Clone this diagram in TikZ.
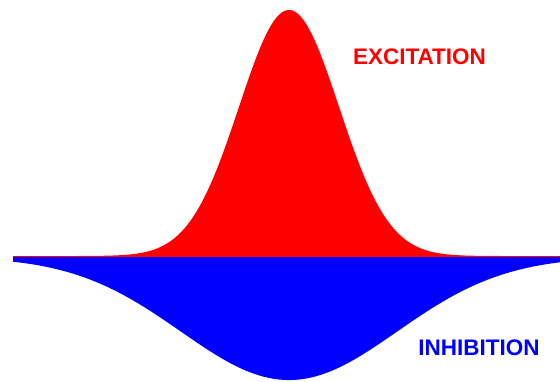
\documentclass[tikz,border=0pt]{standalone}
\usepackage{fontspec}
\setmainfont{Liberation Sans}

\begin{document}
\begin{tikzpicture}[x=0.03cm, y=-0.03cm]

% Frame of the picture
\useasboundingbox (0,0) rectangle (560,381);

% Define coordinates
\coordinate (leftEnd) at (13,257);
\coordinate (rightEnd) at (560,257);
\coordinate (centre) at (289,257);

% Excitation curve (narrow)
\fill[red] (leftEnd) -- plot[domain=13:560, samples=250] (\x, {256-246*exp(-0.5*((\x-289)/50)^2)}) -- (rightEnd) -- cycle;

% Inhibition curve (wide)
\fill[blue] (leftEnd) -- plot[domain=13:560, samples=250] (\x, {257+123*exp(-0.5*((\x-289)/108)^2)}) -- (rightEnd) -- cycle;

% Labels
\node[red, font=\fontsize{19.2}{21}\bfseries\selectfont, anchor=base, inner sep=0] (excitation) at (419.5,64) {EXCITATION};
\node[blue, font=\fontsize{19.2}{21}\bfseries\selectfont, anchor=base, inner sep=0] (inhibition) at (479,355) {INHIBITION};

\end{tikzpicture}
\end{document}
